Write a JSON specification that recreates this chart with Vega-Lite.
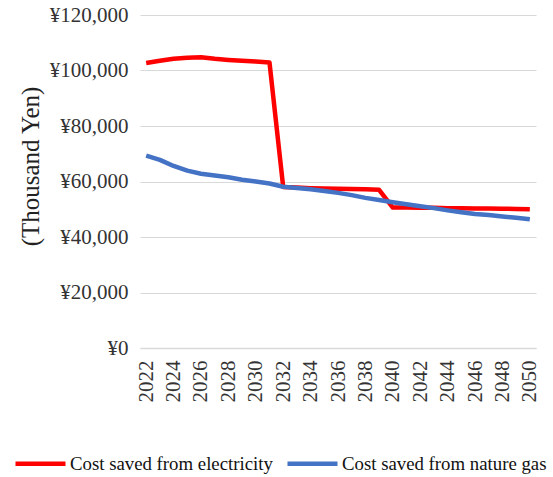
{
  "$schema": "https://vega.github.io/schema/vega-lite/v6.json",
  "width": 396,
  "height": 333,
  "autosize": {"type": "none"},
  "padding": {"left": 140, "top": 15, "right": 17, "bottom": 129},
  "background": "white",
  "config": {
    "view": {"stroke": null},
    "font": "Liberation Serif"
  },
  "data": {
    "values": [
      {"year": 2022, "series": "Cost saved from  electricity", "value": 102700},
      {"year": 2023, "series": "Cost saved from  electricity", "value": 103500},
      {"year": 2024, "series": "Cost saved from  electricity", "value": 104200},
      {"year": 2025, "series": "Cost saved from  electricity", "value": 104600},
      {"year": 2026, "series": "Cost saved from  electricity", "value": 104800},
      {"year": 2027, "series": "Cost saved from  electricity", "value": 104200},
      {"year": 2028, "series": "Cost saved from  electricity", "value": 103800},
      {"year": 2029, "series": "Cost saved from  electricity", "value": 103500},
      {"year": 2030, "series": "Cost saved from  electricity", "value": 103200},
      {"year": 2031, "series": "Cost saved from  electricity", "value": 102900},
      {"year": 2032, "series": "Cost saved from  electricity", "value": 58000},
      {"year": 2033, "series": "Cost saved from  electricity", "value": 57800},
      {"year": 2034, "series": "Cost saved from  electricity", "value": 57600},
      {"year": 2035, "series": "Cost saved from  electricity", "value": 57500},
      {"year": 2036, "series": "Cost saved from  electricity", "value": 57400},
      {"year": 2037, "series": "Cost saved from  electricity", "value": 57300},
      {"year": 2038, "series": "Cost saved from  electricity", "value": 57200},
      {"year": 2039, "series": "Cost saved from  electricity", "value": 57000},
      {"year": 2040, "series": "Cost saved from  electricity", "value": 50600},
      {"year": 2041, "series": "Cost saved from  electricity", "value": 50600},
      {"year": 2042, "series": "Cost saved from  electricity", "value": 50500},
      {"year": 2043, "series": "Cost saved from  electricity", "value": 50500},
      {"year": 2044, "series": "Cost saved from  electricity", "value": 50400},
      {"year": 2045, "series": "Cost saved from  electricity", "value": 50400},
      {"year": 2046, "series": "Cost saved from  electricity", "value": 50300},
      {"year": 2047, "series": "Cost saved from  electricity", "value": 50300},
      {"year": 2048, "series": "Cost saved from  electricity", "value": 50200},
      {"year": 2049, "series": "Cost saved from  electricity", "value": 50100},
      {"year": 2050, "series": "Cost saved from  electricity", "value": 50000},
      {"year": 2022, "series": "Cost saved from  nature gas", "value": 69300},
      {"year": 2023, "series": "Cost saved from  nature gas", "value": 67800},
      {"year": 2024, "series": "Cost saved from  nature gas", "value": 65600},
      {"year": 2025, "series": "Cost saved from  nature gas", "value": 63900},
      {"year": 2026, "series": "Cost saved from  nature gas", "value": 62800},
      {"year": 2027, "series": "Cost saved from  nature gas", "value": 62200},
      {"year": 2028, "series": "Cost saved from  nature gas", "value": 61500},
      {"year": 2029, "series": "Cost saved from  nature gas", "value": 60600},
      {"year": 2030, "series": "Cost saved from  nature gas", "value": 60000},
      {"year": 2031, "series": "Cost saved from  nature gas", "value": 59300},
      {"year": 2032, "series": "Cost saved from  nature gas", "value": 58100},
      {"year": 2033, "series": "Cost saved from  nature gas", "value": 57700},
      {"year": 2034, "series": "Cost saved from  nature gas", "value": 57200},
      {"year": 2035, "series": "Cost saved from  nature gas", "value": 56600},
      {"year": 2036, "series": "Cost saved from  nature gas", "value": 55900},
      {"year": 2037, "series": "Cost saved from  nature gas", "value": 55100},
      {"year": 2038, "series": "Cost saved from  nature gas", "value": 54100},
      {"year": 2039, "series": "Cost saved from  nature gas", "value": 53300},
      {"year": 2040, "series": "Cost saved from  nature gas", "value": 52500},
      {"year": 2041, "series": "Cost saved from  nature gas", "value": 51800},
      {"year": 2042, "series": "Cost saved from  nature gas", "value": 51100},
      {"year": 2043, "series": "Cost saved from  nature gas", "value": 50400},
      {"year": 2044, "series": "Cost saved from  nature gas", "value": 49600},
      {"year": 2045, "series": "Cost saved from  nature gas", "value": 48900},
      {"year": 2046, "series": "Cost saved from  nature gas", "value": 48300},
      {"year": 2047, "series": "Cost saved from  nature gas", "value": 47900},
      {"year": 2048, "series": "Cost saved from  nature gas", "value": 47400},
      {"year": 2049, "series": "Cost saved from  nature gas", "value": 46900},
      {"year": 2050, "series": "Cost saved from  nature gas", "value": 46400}
    ]
  },
  "mark": {"type": "line", "strokeWidth": 4.5, "strokeCap": "butt", "strokeJoin": "round"},
  "encoding": {
    "x": {
      "field": "year",
      "type": "quantitative",
      "scale": {"domain": [2021.55, 2050.45], "nice": false, "zero": false},
      "axis": {
        "title": null,
        "values": [2022, 2024, 2026, 2028, 2030, 2032, 2034, 2036, 2038, 2040, 2042, 2044, 2046, 2048, 2050],
        "format": "d",
        "labelAngle": -90,
        "labelAlign": "right",
        "labelBaseline": "middle",
        "labelPadding": 12,
        "labelFontSize": 21,
        "labelColor": "#333333",
        "labelFont": "Liberation Serif",
        "labelOverlap": false,
        "labelFlush": false,
        "ticks": false,
        "grid": false,
        "domain": true,
        "domainColor": "#d9d9d9",
        "domainWidth": 1.5
      }
    },
    "y": {
      "field": "value",
      "type": "quantitative",
      "scale": {"domain": [0, 120000], "nice": false},
      "axis": {
        "title": "(Thousand Yen)",
        "titleFont": "Liberation Serif",
        "titleFontSize": 25,
        "titleFontWeight": "normal",
        "titleColor": "#222222",
        "titleAngle": -90,
        "titleX": -110,
        "titleY": 151,
        "titleAlign": "center",
        "titleBaseline": "middle",
        "values": [0, 20000, 40000, 60000, 80000, 100000, 120000],
        "labelExpr": "'¥' + format(datum.value, ',d')",
        "labelFont": "Liberation Serif",
        "labelFontSize": 21,
        "labelColor": "#333333",
        "labelPadding": 12,
        "ticks": false,
        "domain": false,
        "grid": true,
        "gridColor": "#d9d9d9",
        "gridWidth": 1.2
      }
    },
    "color": {
      "field": "series",
      "type": "nominal",
      "scale": {
        "domain": ["Cost saved from  electricity", "Cost saved from  nature gas"],
        "range": ["#ff0000", "#4472c4"]
      },
      "legend": {
        "title": null,
        "orient": "none",
        "direction": "horizontal",
        "legendX": -127,
        "legendY": 421,
        "symbolType": "stroke",
        "symbolSize": 2500,
        "symbolStrokeWidth": 4.5,
        "labelFont": "Liberation Serif",
        "labelFontSize": 18.8,
        "labelColor": "#111111",
        "labelOffset": 2,
        "columnPadding": 0,
        "labelLimit": 400
      }
    }
  }
}
